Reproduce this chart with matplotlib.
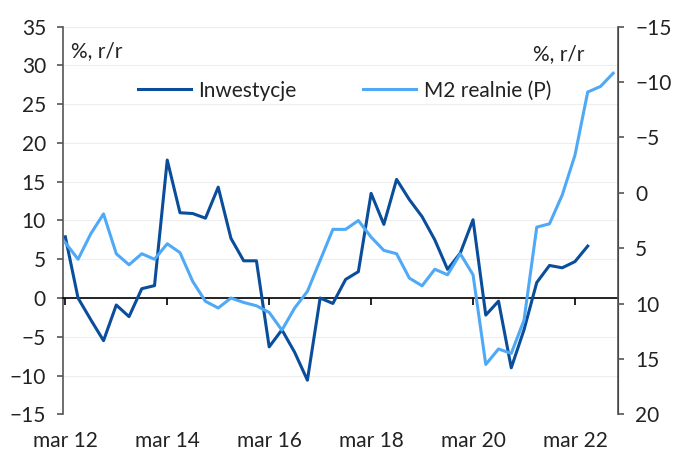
import matplotlib.pyplot as plt
import numpy as np

# quarterly data, Mar 2012 onwards
quarters = np.arange(44)
tick_pos = [0, 8, 16, 24, 32, 40]
tick_labels = ["mar 12", "mar 14", "mar 16", "mar 18", "mar 20", "mar 22"]

inwestycje = [7.9, 0.0, -2.8, -5.5, -0.9, -2.4, 1.2, 1.6, 17.8, 11.0,
              10.9, 10.3, 14.3, 7.7, 4.8, 4.8, -6.3, -4.1, -7.0, -10.6,
              0.0, -0.7, 2.4, 3.4, 13.5, 9.5, 15.3, 12.7, 10.5, 7.5,
              3.7, 5.8, 10.1, -2.2, -0.4, -9.0, -4.1, 2.0, 4.2, 3.9,
              4.7, 6.7]

m2_realnie = [4.5, 6.0, 3.7, 1.9, 5.5, 6.5, 5.5, 6.0, 4.6, 5.4,
              8.0, 9.8, 10.4, 9.5, 9.9, 10.2, 10.8, 12.4, 10.4, 8.9,
              6.1, 3.3, 3.3, 2.5, 4.0, 5.2, 5.5, 7.7, 8.4, 6.9,
              7.4, 5.5, 7.4, 15.5, 14.1, 14.5, 11.5, 3.1, 2.8, 0.2,
              -3.4, -9.1, -9.6, -10.8]

dark = "#0a4e9b"
light = "#4fa9f6"
txt = "#222222"
spine_col = "#555555"
fs = 15

plt.rcParams["font.family"] = ["Lato", "DejaVu Sans"]

fig = plt.figure(figsize=(6.84, 4.5), dpi=100)
ax = fig.add_axes([0.0925, 0.0793, 0.8105, 0.8614])
ax2 = ax.twinx()

l1, = ax.plot(quarters[:len(inwestycje)], inwestycje, color=dark, lw=2.2,
              label="Inwestycje", zorder=3)
l2, = ax2.plot(quarters, m2_realnie, color=light, lw=2.2,
               label="M2 realnie (P)", zorder=2)

ax.set_xlim(-0.16, 43.35)
ax.set_ylim(-15, 35)
ax.set_yticks(np.arange(-15, 36, 5))
ax2.set_ylim(20, -15)
ax2.set_yticks(np.arange(-15, 21, 5))

# faint grid
for v in np.arange(-15, 36, 5):
    ax.axhline(v, color="#eeeeee", lw=0.8, zorder=0)

# bottom spine sits on zero, ticks there; labels at the bottom
for a in (ax, ax2):
    a.spines["top"].set_visible(False)
ax.spines["bottom"].set_position(("data", 0))
ax.spines["bottom"].set_color("black")
ax.spines["bottom"].set_linewidth(1.2)
ax.spines["left"].set_color(spine_col)
ax.spines["left"].set_linewidth(1.2)
ax2.spines["right"].set_color(spine_col)
ax2.spines["right"].set_linewidth(1.2)
ax2.spines["left"].set_visible(False)
ax2.spines["bottom"].set_visible(False)

ax.set_xticks(tick_pos)
ax.tick_params(axis="x", direction="out", length=5, width=1.2,
               color="black", labelbottom=False)
ax.tick_params(axis="y", direction="out", length=4.5, width=1.2,
               color=spine_col, labelsize=fs, labelcolor=txt, pad=8)
ax2.tick_params(axis="y", direction="out", length=4.5, width=1.2,
                color=spine_col, labelsize=fs, labelcolor=txt, pad=8)

sec = ax.secondary_xaxis("bottom")
sec.set_xticks(tick_pos, tick_labels)
sec.spines["bottom"].set_visible(False)
sec.tick_params(length=0, labelsize=fs, labelcolor=txt, pad=12)

ax.text(0.014, 0.938, "%, r/r", transform=ax.transAxes, fontsize=fs,
        color=txt, va="center", ha="left")
ax2.text(0.94, 0.93, "%, r/r", transform=ax2.transAxes, fontsize=fs,
         color=txt, va="center", ha="right")

ax2.legend([l1, l2], ["Inwestycje", "M2 realnie (P)"], loc="center",
           bbox_to_anchor=(0.507, 0.835), ncol=2, frameon=False,
           fontsize=fs, handlelength=2.55, handletextpad=0.35,
           columnspacing=3.2, labelcolor=txt)

fig.savefig("out.png", dpi=100)
